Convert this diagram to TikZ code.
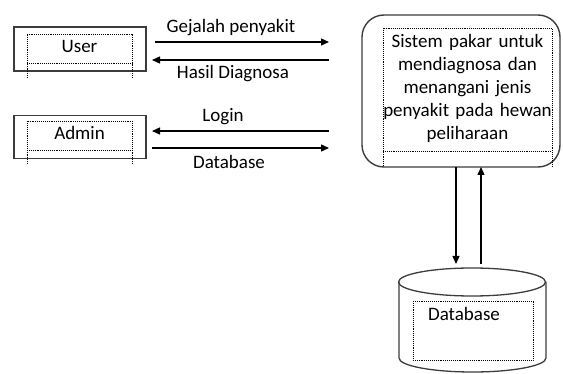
\documentclass[tikz,border=0pt]{standalone}
\usepackage{fontspec}
\setmainfont{Carlito}
\usetikzlibrary{arrows.meta}
\definecolor{boxgray}{HTML}{3C3C3C}
\tikzset{
  outerbox/.style={draw=boxgray, line width=1.4pt, rectangle, inner sep=0pt},
  dotbox/.style={draw=black, line width=0.9pt, densely dotted},
  flow/.style={draw=black, line width=1.3pt, -{Triangle[length=8pt,width=7pt]}},
  lbl/.style={font=\fontsize{19}{23}\selectfont, inner sep=0pt},
}
\begin{document}
\begin{tikzpicture}[x=1pt,y=-1pt]
\useasboundingbox (0,0) rectangle (563,374);
% User entity
\node[outerbox, minimum width=132pt, minimum height=44pt] (user) at (80,49) {};
\draw[dotbox] (27,78) -- (27,34) -- (132,34) -- (132,78);
\draw[dotbox] (27,63) -- (132,63);
\node[lbl] (usert) at (79.5,46) {User};
% Admin entity
\node[outerbox, minimum width=132pt, minimum height=43pt] (admin) at (80,137) {};
\draw[dotbox] (27,164) -- (27,121) -- (132,121) -- (132,164);
\draw[dotbox] (27,150) -- (132,150);
\node[lbl] (admint) at (79.5,133) {Admin};
% System process
\node[outerbox, rounded corners=22pt, minimum width=198pt, minimum height=152pt] (sys) at (461,91) {};
\draw[dotbox] (383,166) -- (383,28) -- (552,28) -- (552,166);
\draw[dotbox] (383,151) -- (552,151);
\node[lbl, align=center, text width=175pt] (syst) at (467.5,88.5) {Sistem pakar untuk\\mendiagnosa dan\\menangani jenis\\penyakit pada hewan\\peliharaan};
% Database store
\coordinate (dbc) at (472,282);
\draw[draw=boxgray, line width=1.3pt] (399,282) -- (399,358) arc[start angle=180, end angle=360, x radius=73.5pt, y radius=14pt] -- (546,282);
\draw[draw=boxgray, line width=1.3pt] (dbc) ellipse[x radius=73.5pt, y radius=14pt];
\node[inner sep=0pt, minimum width=147pt, minimum height=104pt] (db) at (472.5,320) {};
\draw[dotbox] (413,301) rectangle (533,360);
\node[lbl] (dbt) at (464,314) {Database};
% flows
\coordinate (g1) at (155,42); \coordinate (g2) at (329,42);
\coordinate (h1) at (329,60); \coordinate (h2) at (152,60);
\coordinate (l1) at (329,131); \coordinate (l2) at (152,131);
\coordinate (d1) at (152,148); \coordinate (d2) at (329,148);
\draw[flow] (g1) -- (g2);
\draw[flow] (h1) -- (h2);
\draw[flow] (l1) -- (l2);
\draw[flow] (d1) -- (d2);
\node[lbl] (lg) at (231,28) {Gejalah penyakit};
\node[lbl] (lh) at (233,74) {Hasil Diagnosa};
\node[lbl] (ll) at (223,117) {Login};
\node[lbl] (ld) at (229,162) {Database};
% vertical flows
\draw[flow] (456,167) -- (456,264);
\draw[flow] (481,264) -- (481,167);
\end{tikzpicture}
\end{document}
